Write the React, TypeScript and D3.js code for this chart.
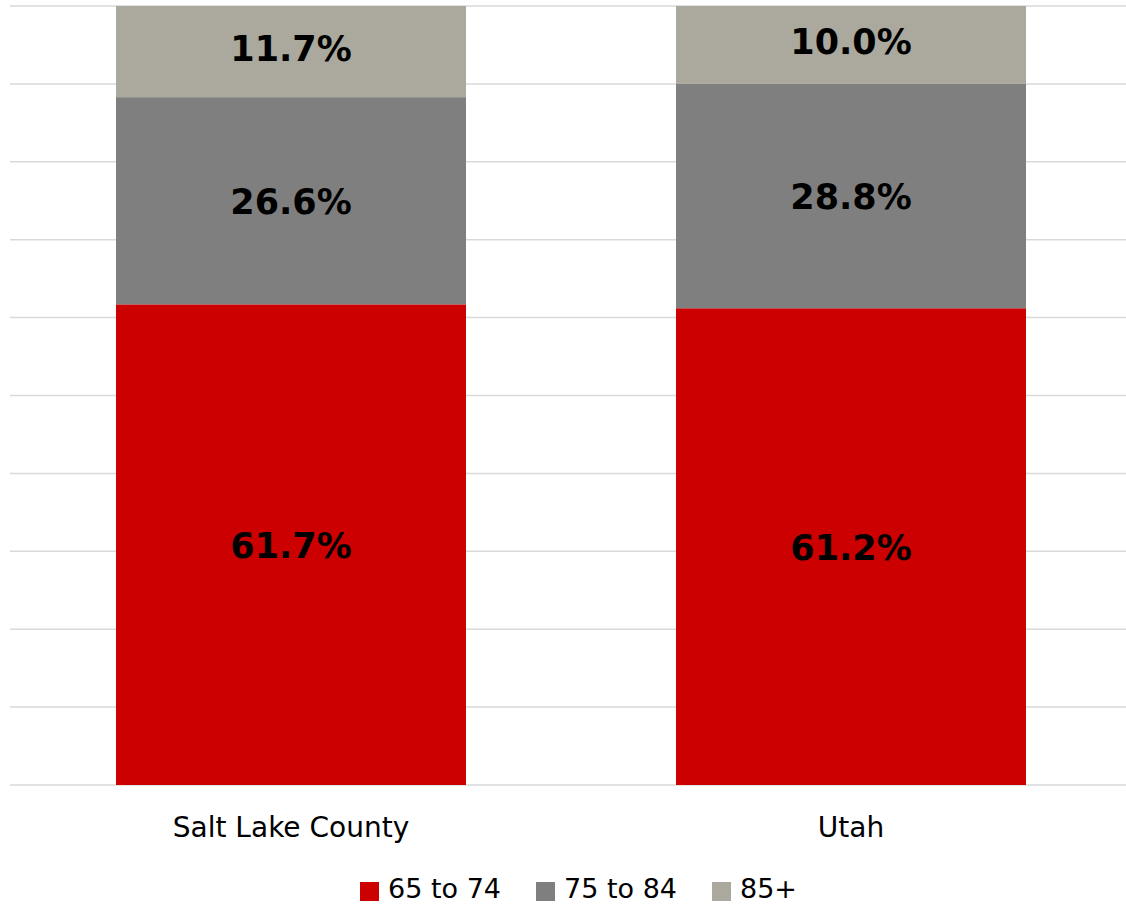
import React from "react";
import * as d3 from "d3";

// age distribution of the 65+ population
const categories = ["Salt Lake County", "Utah"];
const seriesNames = ["65 to 74", "75 to 84", "85+"];
const age65to74 = [61.7, 61.2];
const age75to84 = [26.6, 28.8];
const age85plus = [11.7, 10.0];
const colors = ["#CC0000", "#7F7F7F", "#ABA99E"];

const W = 1126;
const H = 906;

export default function App() {
  const rows = categories.map((c, i) => ({
    cat: c,
    "65 to 74": age65to74[i] / 100,
    "75 to 84": age75to84[i] / 100,
    "85+": age85plus[i] / 100,
  }));

  const stack = d3.stack<any>().keys(seriesNames);
  const layers = stack(rows);

  const x = d3
    .scaleBand()
    .domain(categories)
    .range([11, 1131])
    .paddingInner(0.375)
    .paddingOuter(0.1875);

  const y = d3.scaleLinear().domain([0, 1]).range([785, 6]);
  const ticks = d3.range(0, 11).map((d) => d / 10);

  const legendX = [360, 536, 712];

  return (
    <svg
      width={W}
      height={H}
      style={{ position: "absolute", left: 0, top: 0, background: "#fff" }}
      fontFamily="'DejaVu Sans', sans-serif"
    >
      {/* gridlines */}
      <g>
        {ticks.map((t) => (
          <line
            key={t}
            x1={10}
            x2={W}
            y1={y(t)}
            y2={y(t)}
            stroke="#D9D9D9"
            strokeWidth={1.5}
          />
        ))}
      </g>

      {/* bars */}
      {layers.map((layer, li) => (
        <g key={layer.key} fill={colors[li]}>
          {layer.map((d: any, i: number) => (
            <rect
              key={i}
              x={x(d.data.cat)}
              width={x.bandwidth()}
              y={y(d[1])}
              height={y(d[0]) - y(d[1])}
            />
          ))}
        </g>
      ))}

      {/* data labels */}
      {layers.map((layer, li) => (
        <g key={layer.key + "-lbl"}>
          {layer.map((d: any, i: number) => (
            <text
              key={i}
              x={(x(d.data.cat) as number) + x.bandwidth() / 2}
              y={(y(d[0]) + y(d[1])) / 2 + (li === 2 ? -3 : 1)}
              textAnchor="middle"
              dominantBaseline="central"
              fontWeight="bold"
              fontSize={35}
              fill="#000"
            >
              {((d[1] - d[0]) * 100).toFixed(1)}%
            </text>
          ))}
        </g>
      ))}

      {/* category labels */}
      {categories.map((c) => (
        <text
          key={c}
          x={(x(c) as number) + x.bandwidth() / 2}
          y={837}
          textAnchor="middle"
          fontSize={28}
          fill="#000"
        >
          {c}
        </text>
      ))}

      {/* legend */}
      {seriesNames.map((s, i) => (
        <g key={s} transform={`translate(${legendX[i]},0)`}>
          <rect x={0} y={882} width={19} height={19} fill={colors[i]} />
          <text x={28} y={898} fontSize={27} fill="#000">
            {s}
          </text>
        </g>
      ))}
    </svg>
  );
}
